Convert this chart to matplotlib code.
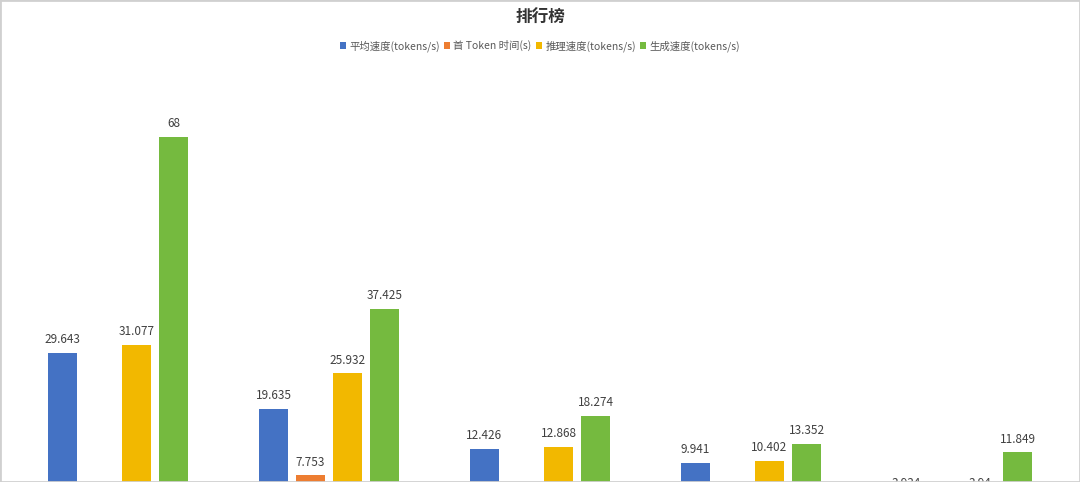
import numpy as np
import matplotlib
matplotlib.use('Agg')
import matplotlib.pyplot as plt
from matplotlib.patches import Rectangle

plt.rcParams['font.family'] = ['Noto Sans CJK SC', 'DejaVu Sans']

# data (x labels are cut off in the picture; bottom-most values estimated)
models = ['模型1', '模型2', '模型3', '模型4', '模型5']
series_names = ['平均速度(tokens/s)', '首 Token 时间(s)', '推理速度(tokens/s)', '生成速度(tokens/s)']
avg_speed = [29.643, 19.635, 12.426, 9.941, 3.934]
first_token = [0.45, 7.753, 0.5, 0.55, 0.6]
infer_speed = [31.077, 25.932, 12.868, 10.402, 3.94]
gen_speed = [68, 37.425, 18.274, 13.352, 11.849]
colors = ['#4472C4', '#ED7D31', '#F2B800', '#75BA3F']

fig = plt.figure(figsize=(10.8, 4.82), dpi=100)
# axes bottom sits below the picture edge, as in the cropped original
ax = fig.add_axes([12.5 / 1080, -37 / 482, 1055 / 1080, 449 / 482])

x = np.arange(len(models))
pitch = 0.1754
for i, (vals, name) in enumerate(zip([avg_speed, first_token, infer_speed, gen_speed], series_names)):
    bars = ax.bar(x + (i - 1.5) * pitch, vals, width=pitch * 0.76, color=colors[i], label=name)
    ax.bar_label(bars, labels=[f'{v:g}' for v in vals], padding=5, fontsize=8.5, color='#404040')

ax.set_xlim(-0.5, len(models) - 0.5)
ax.set_ylim(0, 80)
ax.set_xticks(x)
ax.set_xticklabels(models)
ax.set_yticks([])
for s in ax.spines.values():
    s.set_visible(False)
ax.tick_params(length=0)

fig.text(0.5, 1 - 18 / 482, '排行榜', ha='center', va='center', fontsize=12, fontweight='bold', color='#333333')
fig.legend(loc='center', bbox_to_anchor=(0.5, 1 - 46 / 482), ncol=4, frameon=False,
           fontsize=7.5, labelcolor='#595959', handlelength=0.6, handleheight=0.6,
           handletextpad=0.3, columnspacing=0.4)

fig.add_artist(Rectangle((0, 0), 1, 1, transform=fig.transFigure, fill=False,
                         edgecolor='#d0d0d0', linewidth=2))

fig.savefig('out.png', dpi=100)
